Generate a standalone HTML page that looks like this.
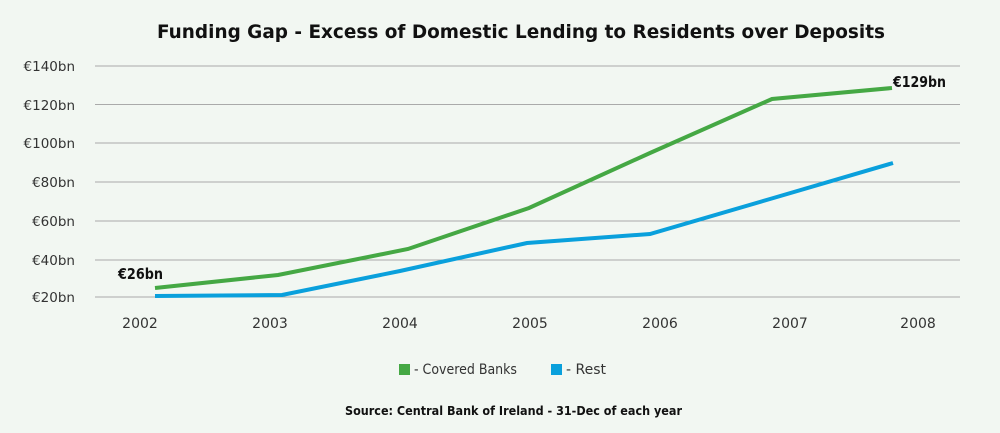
<!DOCTYPE html>
<html><head><style>
body{margin:0;background:#f2f7f2;}
svg{display:block;font-family:"DejaVu Sans","Liberation Sans",sans-serif;}
</style></head><body>
<svg width="1000" height="433" viewBox="0 0 1000 433">
<rect width="1000" height="433" fill="#f2f7f2"/>
<text x="157" y="38" font-size="19" font-weight="bold" textLength="728" lengthAdjust="spacingAndGlyphs" fill="#111">Funding Gap - Excess of Domestic Lending to Residents over Deposits</text>
<g stroke="#aaaaaa" stroke-width="1">
<line x1="95" x2="960" y1="66" y2="66"/><line x1="95" x2="960" y1="104.5" y2="104.5"/>
<line x1="95" x2="960" y1="143" y2="143"/><line x1="95" x2="960" y1="182" y2="182"/>
<line x1="95" x2="960" y1="221" y2="221"/><line x1="95" x2="960" y1="260" y2="260"/>
<line x1="95" x2="960" y1="297" y2="297"/>
</g>
<g font-size="13.5" fill="#333" text-anchor="end">
<text x="75" y="71">€140bn</text><text x="75" y="110">€120bn</text><text x="75" y="148">€100bn</text>
<text x="75" y="187">€80bn</text><text x="75" y="226">€60bn</text><text x="75" y="265">€40bn</text><text x="75" y="302">€20bn</text>
</g>
<g font-size="14" fill="#333" text-anchor="middle">
<text x="140" y="328">2002</text><text x="270" y="328">2003</text><text x="400" y="328">2004</text>
<text x="530" y="328">2005</text><text x="660" y="328">2006</text><text x="790" y="328">2007</text><text x="918" y="328">2008</text>
</g>
<polyline fill="none" stroke="#45a844" stroke-width="4" points="155,288 278,275 408,249 529,208 650,153 772,99 892,88"/>
<polyline fill="none" stroke="#0aa0dc" stroke-width="4" points="155,296 282,295 400,271 527,243 650,234 770,199 893,163"/>
<text x="118" y="279" font-size="15" font-weight="bold" textLength="45" lengthAdjust="spacingAndGlyphs" fill="#111">€26bn</text>
<text x="893" y="87" font-size="15" font-weight="bold" textLength="53" lengthAdjust="spacingAndGlyphs" fill="#111">€129bn</text>
<rect x="399" y="364" width="11" height="11" fill="#45a844"/>
<text x="414" y="374" font-size="14" textLength="103" lengthAdjust="spacingAndGlyphs" fill="#333">- Covered Banks</text>
<rect x="551" y="364" width="11" height="11" fill="#0aa0dc"/>
<text x="566" y="374" font-size="14" fill="#333">- Rest</text>
<text x="345" y="415" font-size="12" font-weight="bold" textLength="337" lengthAdjust="spacingAndGlyphs" fill="#111">Source: Central Bank of Ireland - 31-Dec of each year</text>
</svg>
</body></html>
